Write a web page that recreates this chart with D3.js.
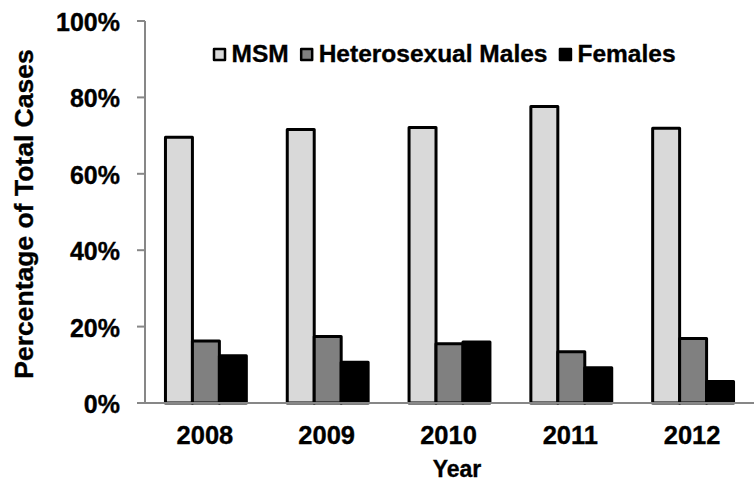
<!DOCTYPE html>
<html>
<head>
<meta charset="utf-8">
<script src="https://cdn.jsdelivr.net/npm/d3@7/dist/d3.min.js"></script>
<style>
  html, body { margin: 0; padding: 0; background: #fff; }
  svg { display: block; font-family: "Liberation Sans", Arial, sans-serif; font-weight: bold; }
  svg text { stroke: #000; stroke-width: 0.35px; }
</style>
</head>
<body>
<svg id="viz"></svg>
<script>
const years = ['2008', '2009', '2010', '2011', '2012'];
const seriesNames = ['MSM', 'Heterosexual Males', 'Females'];
const msm = [69.6, 71.6, 72.1, 77.6, 71.9];
const heteroMales = [16.2, 17.4, 15.5, 13.4, 16.9];
const females = [12.4, 10.7, 16.0, 9.2, 5.6];
const yTicks = [0, 20, 40, 60, 80, 100];

(function() {
  const width = 756;
  const height = 483;
  const plot = { left: 145, right: 754, top: 21, bottom: 403 };
  const axisColor = '#878787';

  const svg = d3.select('#viz')
    .attr('width', width)
    .attr('height', height)
    .attr('viewBox', `0 0 ${width} ${height}`);

  const values = [msm, heteroMales, females];
  const data = years.map((yr, i) => ({
    year: yr,
    vals: seriesNames.map((k, j) => ({ key: k, value: values[j][i] }))
  }));

  const color = d3.scaleOrdinal().domain(seriesNames).range(['#d9d9d9', '#808080', '#000000']);

  const x = d3.scaleBand().domain(years).range([plot.left, plot.right]).padding(0);
  const bw = x.bandwidth();
  const xInner = d3.scaleBand().domain(seriesNames).range([bw * 0.168, bw * 0.832]).padding(0);
  const y = d3.scaleLinear().domain([0, 100]).range([plot.bottom, plot.top]);

  // bars
  svg.append('g')
    .selectAll('g')
    .data(data)
    .join('g')
    .attr('transform', d => `translate(${x(d.year)},0)`)
    .selectAll('rect')
    .data(d => d.vals)
    .join('rect')
    .attr('x', d => xInner(d.key))
    .attr('y', d => y(d.value))
    .attr('width', xInner.bandwidth())
    .attr('height', d => y(0) - y(d.value))
    .attr('fill', d => color(d.key))
    .attr('stroke', '#000')
    .attr('stroke-width', 3)
    .attr('stroke-linejoin', 'round');

  // y axis
  const yAxis = svg.append('g');
  yAxis.append('line')
    .attr('x1', plot.left).attr('x2', plot.left)
    .attr('y1', plot.top).attr('y2', plot.bottom)
    .attr('stroke', axisColor).attr('stroke-width', 2);
  yAxis.selectAll('.tick')
    .data(yTicks)
    .join('line')
    .attr('x1', plot.left - 8).attr('x2', plot.left)
    .attr('y1', d => y(d)).attr('y2', d => y(d))
    .attr('stroke', axisColor).attr('stroke-width', 2);
  yAxis.selectAll('text')
    .data(yTicks)
    .join('text')
    .attr('x', 120)
    .attr('y', d => y(d) + 10)
    .attr('text-anchor', 'end')
    .style('font-size', '25px')
    .text(d => d + '%');

  // x axis
  svg.append('line')
    .attr('x1', plot.left).attr('x2', plot.right)
    .attr('y1', plot.bottom).attr('y2', plot.bottom)
    .attr('stroke', axisColor).attr('stroke-width', 2);
  svg.append('g')
    .selectAll('text')
    .data(years)
    .join('text')
    .attr('x', d => x(d) + bw / 2 - 1)
    .attr('y', 444)
    .attr('text-anchor', 'middle')
    .style('font-size', '25.5px')
    .text(d => d);

  // axis titles
  svg.append('text')
    .attr('x', 457)
    .attr('y', 477)
    .attr('text-anchor', 'middle')
    .style('font-size', '23px')
    .text('Year');

  svg.append('text')
    .attr('transform', 'translate(33,214) rotate(-90)')
    .attr('text-anchor', 'middle')
    .style('font-size', '26.5px')
    .text('Percentage of Total Cases');

  // legend
  const legend = svg.append('g').attr('transform', 'translate(213, 48)');
  let lx = 0;
  seriesNames.forEach(k => {
    const g = legend.append('g').attr('transform', `translate(${lx},0)`);
    g.append('rect')
      .attr('x', 1).attr('y', 1)
      .attr('width', 11).attr('height', 11)
      .attr('fill', color(k))
      .attr('stroke', '#000')
      .attr('stroke-width', 2.5)
      .attr('stroke-linejoin', 'round');
    const t = g.append('text')
      .attr('x', 18.5)
      .attr('y', 14)
      .style('font-size', '24.5px')
      .text(k);
    lx += 18.5 + t.node().getComputedTextLength() + 11.5;
  });
})();
</script>
</body>
</html>
